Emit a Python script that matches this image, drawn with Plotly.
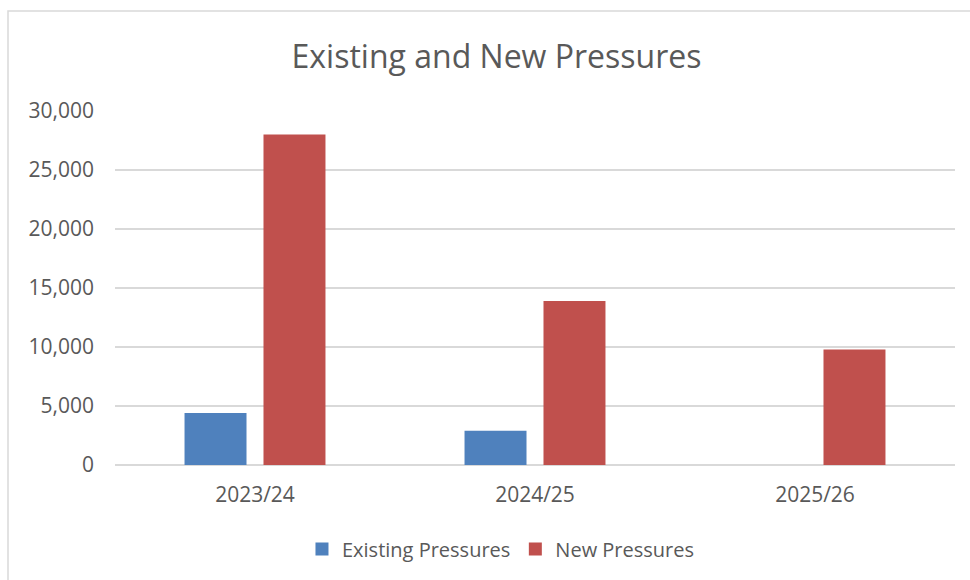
import plotly.graph_objects as go

categories = ["2023/24", "2024/25", "2025/26"]
existing = [4400, 2900, 0]
new = [28000, 13900, 9780]
y_ticks = [0, 5000, 10000, 15000, 20000, 25000, 30000]
y_tick_labels = ["0", "5,000", "10,000", "15,000", "20,000", "25,000", "30,000"]
series_names = ["Existing Pressures", "New Pressures"]
series_colors = ["#4F81BD", "#C0504D"]

FONT = "Open Sans"
GREY_TXT = "#595959"
GRID = "#D9D9D9"

fig = go.Figure()
for vals, name, col in zip([existing, new], series_names, series_colors):
    fig.add_trace(go.Bar(x=categories, y=vals, name=name, showlegend=False,
                         marker=dict(color=col, line=dict(width=0))))
# legend entries with larger square keys
for name, col in zip(series_names, series_colors):
    fig.add_trace(go.Scatter(x=[None], y=[None], mode="markers", name=name,
                             marker=dict(symbol="square", size=13, color=col)))

fig.update_layout(
    width=970, height=580,
    margin=dict(l=115, r=15, t=111, b=115, autoexpand=False),
    paper_bgcolor="white", plot_bgcolor="white",
    barmode="group", bargap=0.436, bargroupgap=0.215,
    title=dict(text="Existing and New Pressures", x=496.5 / 970, xanchor="center",
               y=1 - 57 / 580, yanchor="middle",
               font=dict(family=FONT, size=32, color=GREY_TXT)),
    font=dict(family=FONT, color=GREY_TXT),
    legend=dict(orientation="h", x=0.4595, xanchor="center", y=-0.237, yanchor="middle",
                font=dict(family=FONT, size=20, color=GREY_TXT),
                itemwidth=30, tracegroupgap=0, traceorder="normal"),
    showlegend=True,
)
fig.update_yaxes(range=[0, 30000], tickvals=y_ticks, ticktext=y_tick_labels,
                 showgrid=True, gridcolor=GRID, gridwidth=1.5,
                 zeroline=True, zerolinecolor=GRID, zerolinewidth=1.5,
                 showline=False, ticks="", ticklabelstandoff=20,
                 tickfont=dict(family=FONT, size=21, color=GREY_TXT), fixedrange=True)
fig.update_xaxes(showgrid=False, showline=False, zeroline=False,
                 ticks="outside", ticklen=11, tickcolor="rgba(0,0,0,0)",
                 tickfont=dict(family=FONT, size=21, color=GREY_TXT), fixedrange=True)

# chart-area border (decorative)
fig.add_shape(type="rect", xref="paper", yref="paper",
              x0=-107 / 840, x1=1.05, y0=-0.5, y1=454 / 354,
              line=dict(color=GRID, width=1.5), fillcolor="rgba(0,0,0,0)", layer="below")

fig.write_html("out.html")
